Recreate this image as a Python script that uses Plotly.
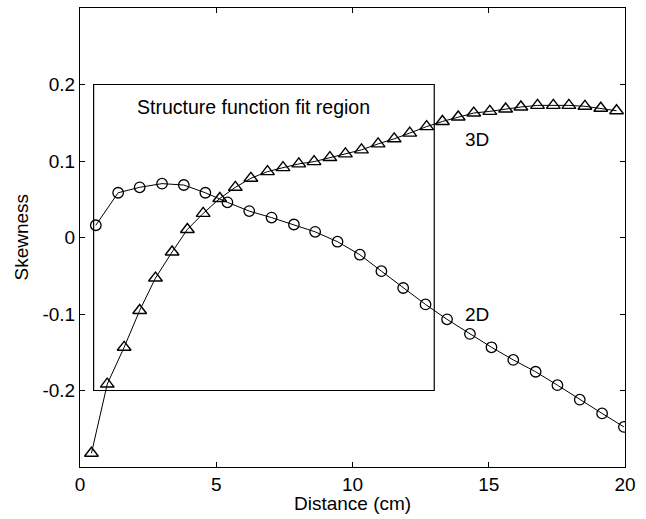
import plotly.graph_objects as go

# Skewness of the velocity increments versus separation distance
distance_2d = [0.58, 1.40, 2.19, 3.01, 3.81, 4.60, 5.41, 6.21, 7.03, 7.85, 8.63, 9.45,
               10.27, 11.06, 11.86, 12.68, 13.47, 14.31, 15.10, 15.90, 16.72, 17.52,
               18.34, 19.16, 19.96]
skew_2d = [0.016, 0.0585, 0.0656, 0.0704, 0.0686, 0.0585, 0.046, 0.0345, 0.026, 0.017,
           0.0074, -0.0055, -0.0225, -0.044, -0.066, -0.0875, -0.107, -0.126, -0.1435,
           -0.160, -0.1755, -0.193, -0.212, -0.230, -0.2476]

distance_3d = [0.42, 1.00, 1.62, 2.19, 2.77, 3.38, 3.94, 4.52, 5.13, 5.70, 6.27, 6.88,
               7.45, 8.03, 8.59, 9.17, 9.74, 10.33, 10.94, 11.53, 12.10, 12.72, 13.30,
               13.88, 14.45, 15.04, 15.62, 16.18, 16.79, 17.37, 17.94, 18.53, 19.11, 19.69]
skew_3d = [-0.282, -0.1916, -0.1435, -0.0954, -0.053, -0.0189, 0.0105, 0.0315, 0.051,
           0.0656, 0.0774, 0.0861, 0.0913, 0.0962, 0.0992, 0.1045, 0.1093, 0.1146,
           0.1224, 0.129, 0.1365, 0.145, 0.1517, 0.1575, 0.1627, 0.1649, 0.168, 0.1706,
           0.1727, 0.1727, 0.1727, 0.1715, 0.169, 0.1657]

# Structure function fit region (cm, skewness)
fit_x = [0.5, 13.0]
fit_y = [-0.2, 0.2]

x_ticks = [0, 5, 10, 15, 20]
y_ticks = [-0.2, -0.1, 0, 0.1, 0.2]
y_tick_text = ["-0.2", "-0.1", "0", "0.1", "0.2"]

FONT = "Liberation Sans, Arial, Helvetica, sans-serif"
FS = 19

fig = go.Figure()
fig.add_trace(go.Scatter(
    x=distance_3d, y=skew_3d, mode="lines+markers", name="3D",
    line=dict(color="black", width=1),
    marker=dict(symbol="triangle-up-open", size=12, color="black",
                line=dict(width=1.4, color="black")),
))
fig.add_trace(go.Scatter(
    x=distance_2d, y=skew_2d, mode="lines+markers", name="2D",
    line=dict(color="black", width=1),
    marker=dict(symbol="circle-open", size=10.5, color="black",
                line=dict(width=1.3, color="black")),
))

fig.add_shape(type="rect", xref="x", yref="y",
              x0=fit_x[0], x1=fit_x[1], y0=fit_y[0], y1=fit_y[1],
              line=dict(color="black", width=1.2))

fig.add_annotation(x=2.0, y=0.170, xref="x", yref="y", text="Structure function fit region",
                   showarrow=False, xanchor="left", yanchor="middle",
                   font=dict(family=FONT, size=FS + 0.5, color="black"))
fig.add_annotation(x=14.05, y=0.128, xref="x", yref="y", text="3D",
                   showarrow=False, xanchor="left", yanchor="middle",
                   font=dict(family=FONT, size=FS, color="black"))
fig.add_annotation(x=14.05, y=-0.101, xref="x", yref="y", text="2D",
                   showarrow=False, xanchor="left", yanchor="middle",
                   font=dict(family=FONT, size=FS, color="black"))

# Axis titles
fig.add_annotation(x=0.5, y=0, xref="paper", yref="paper", text="Distance (cm)",
                   showarrow=False, xanchor="center", yanchor="middle", yshift=-36,
                   font=dict(family=FONT, size=FS, color="black"))
fig.add_annotation(x=0, y=0.5, xref="paper", yref="paper", text="Skewness",
                   showarrow=False, xanchor="center", yanchor="middle", xshift=-59,
                   textangle=-90, font=dict(family=FONT, size=FS, color="black"))

axis_common = dict(
    showgrid=False, zeroline=False, showline=True, linecolor="black", linewidth=1,
    mirror="ticks", ticks="inside", ticklen=5, tickwidth=1, tickcolor="black",
    tickfont=dict(family=FONT, size=FS, color="black"),
)
fig.update_xaxes(range=[0, 20], tickvals=x_ticks, **axis_common)
fig.update_yaxes(range=[-0.3, 0.3], tickvals=y_ticks, ticktext=y_tick_text, **axis_common)

fig.update_layout(
    width=646, height=519,
    margin=dict(l=80, r=21, t=8, b=52),
    paper_bgcolor="white", plot_bgcolor="white",
    showlegend=False,
    font=dict(family=FONT, size=FS, color="black"),
)

fig.write_html("out.html")
